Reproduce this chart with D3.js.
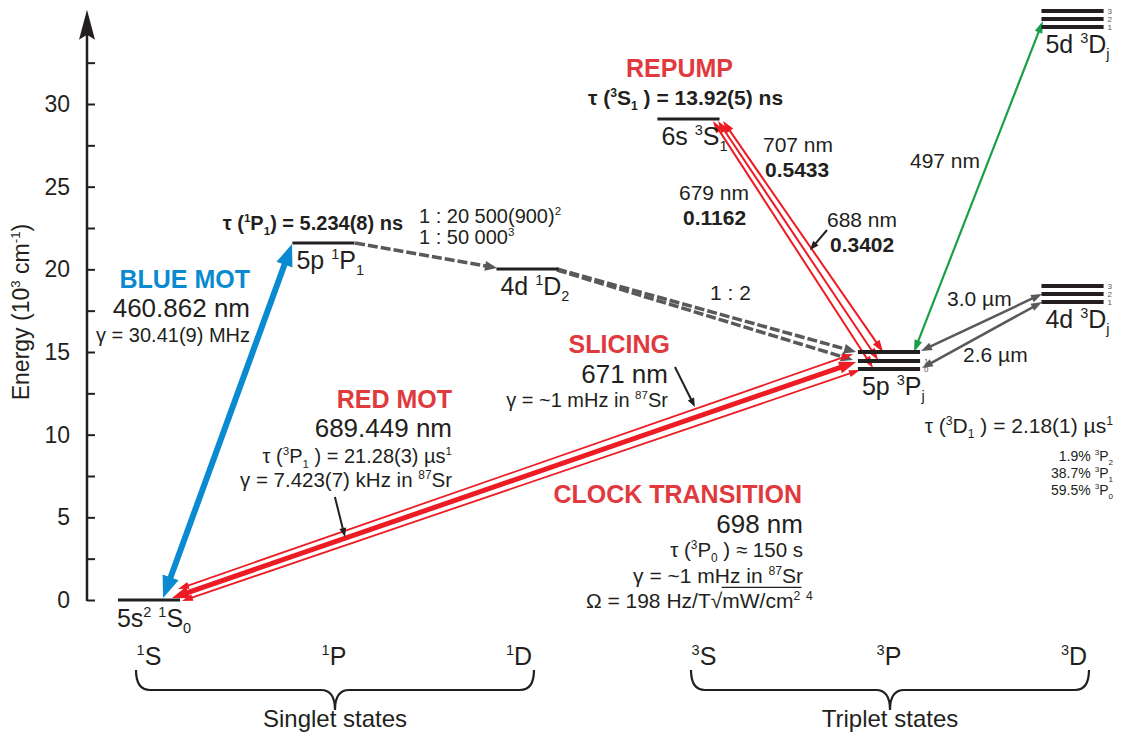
<!DOCTYPE html>
<html><head><meta charset="utf-8">
<script src="https://cdn.jsdelivr.net/npm/d3@7"></script>
<style>
body{margin:0;background:#fff;}
svg{display:block;font-family:"Liberation Sans",Arial,Helvetica,sans-serif;}
</style></head><body>
<svg id="c" width="1121" height="734"></svg>
<script>
// ---------------- DATA ----------------
const orbitalMult = ["1","1","1","3","3","3"];
const orbitalL = ["S","P","D","S","P","D"];
const groupNames = ["Singlet states","Triplet states"];
const yTicks = [0,2.5,5,7.5,10,12.5,15,17.5,20,22.5,25,27.5,30,32.5];

// energy levels (10^3 cm^-1), column position in orbital units
const levelNames = ["5s^{2} ^{1}S_{0}","5p ^{1}P_{1}","4d ^{1}D_{2}","6s ^{3}S_{1}","5p ^{3}P_{j}","4d ^{3}D_{j}","5d ^{3}D_{j}"];
const levelCols = [0, 0.943, 2.046, 2.916, 4.0, 4.992, 4.992];
const levelEnergies = [[0],[21.59],[20.02],[29.09],[15.0,14.46,13.97],[18.99,18.51,18.02],[35.63,35.14,34.66]];
const levelJ = [[],[],[],[],["","1","0"],["3","2","1"],["3","2","1"]];

// transitions: [col, energy] endpoints
const transKind = ["blue","dash","dash","dash","redThin","redThin","redThick","repump","repump","repump","green","ir","ir","pointer","pointer","pointer"];
const transFrom = [[0.076,0.12],[1.114,21.59],[2.205,20.02],[2.205,19.96],[0.157,0.665],[0.178,-0.06],[0.124,0.12],[3.049,28.97],[3.076,28.97],[3.103,28.97],[4.135,15.0],[4.173,15.06],[4.178,14.03],[1.005,6.23],[2.843,14.09],[3.665,22.38]];
const transTo   = [[0.773,21.53],[1.881,20.08],[3.822,15.0],[3.805,14.52],[3.805,14.88],[3.843,13.91],[3.822,14.4],[3.914,14.03],[3.941,14.52],[3.968,15.0],[4.832,35.02],[4.827,18.51],[4.827,18.02],[1.059,3.81],[2.951,11.67],[3.573,21.17]];

// ---------------- LAYOUT ----------------
const INK="#231f20", BLUE="#0a8ad0", RED="#ed1c24", REDTXT="#e0393e", GRAY="#58595b", GREEN="#1a9f48";
const styles = {
  blue:{color:BLUE,w:6,hl:22,hw:17,start:true,end:true},
  dash:{color:GRAY,w:3.5,hl:12,hw:10,start:false,end:true,dash:"10,3"},
  redThin:{color:RED,w:1.8,hl:11,hw:7,start:true,end:true},
  redThick:{color:RED,w:5,hl:17,hw:12,start:true,end:true},
  repump:{color:RED,w:2,hl:12,hw:8,start:true,end:true},
  green:{color:GREEN,w:2.2,hl:12,hw:8,start:true,end:true},
  ir:{color:GRAY,w:2.5,hl:11,hw:8,start:true,end:true},
  pointer:{color:INK,w:2,hl:9,hw:7,start:false,end:true}
};

const svg = d3.select("#c");
const x = d3.scaleLinear().domain([0,5]).range([149,1074]);
const y = d3.scaleLinear().domain([0,30]).range([600,104]);
const halfW = 0.168;

function rich(text, str, fs){
  const re=/\^\{([^}]*)\}|_\{([^}]*)\}|([^\^_]+)/g; let m, cur=0;
  while((m=re.exec(str))){
    let o=0, s=fs, t;
    if(m[1]!==undefined){o=-0.4*fs; s=fs*0.58; t=m[1];}
    else if(m[2]!==undefined){o=0.25*fs; s=fs*0.58; t=m[2];}
    else t=m[3];
    const ts=text.append("tspan").text(t).attr("font-size",s);
    if(o-cur!==0) ts.attr("dy",o-cur);
    cur=o;
  }
  return text;
}
function label(g,str,px,py,fs,opt={}){
  const t=g.append("text").attr("x",px).attr("y",py).attr("font-size",fs)
    .attr("fill",opt.color||INK).attr("text-anchor",opt.anchor||"start")
    .attr("font-weight",opt.bold?"bold":"normal");
  rich(t,str,fs); return t;
}
function measure(str,fs){
  const t=label(svg,str,0,-100,fs,{}); const w=t.node().getBBox().width; t.remove(); return w;
}

// ---- axis
const ax = svg.append("g").attr("transform",`translate(87,0)`);
ax.call(d3.axisLeft(y).tickValues(yTicks).tickSize(-8).tickPadding(17)
   .tickFormat(d=>d%5===0?d:""));
ax.select(".domain").remove();
ax.selectAll(".tick line").attr("stroke",INK).attr("stroke-width",2);
ax.selectAll(".tick text").attr("font-size",23).attr("fill",INK).attr("font-family","Liberation Sans, Arial, sans-serif");
const yTop = y(35.7);
ax.append("line").attr("x1",0).attr("x2",0).attr("y1",y(0)+1).attr("y2",yTop+20).attr("stroke",INK).attr("stroke-width",2.5);
ax.append("path").attr("d",`M0,${yTop} L-8,${yTop+30} L0,${yTop+25} L8,${yTop+30}Z`).attr("fill",INK);
label(svg,"Energy (10^{3} cm^{-1})",0,0,23,{anchor:"middle"}).attr("transform","translate(29,312) rotate(-90)");

// ---- transitions
const tg = svg.append("g");
function arrow(p1,p2,s){
  const dx=p2[0]-p1[0], dy=p2[1]-p1[1], L=Math.hypot(dx,dy), ux=dx/L, uy=dy/L, nx=-uy, ny=ux;
  let a=p1, b=p2;
  if(s.start) a=[p1[0]+ux*s.hl*0.75,p1[1]+uy*s.hl*0.75];
  if(s.end) b=[p2[0]-ux*s.hl*0.75,p2[1]-uy*s.hl*0.75];
  const ln=tg.append("line").attr("x1",a[0]).attr("y1",a[1]).attr("x2",b[0]).attr("y2",b[1])
    .attr("stroke",s.color).attr("stroke-width",s.w);
  if(s.dash) ln.attr("stroke-dasharray",s.dash);
  const head=(tip,dir)=>{
    const bx=tip[0]-dir*ux*s.hl, by=tip[1]-dir*uy*s.hl;
    tg.append("path").attr("d",`M${tip[0]},${tip[1]} L${bx+nx*s.hw/2},${by+ny*s.hw/2} L${bx-nx*s.hw/2},${by-ny*s.hw/2}Z`).attr("fill",s.color);
  };
  if(s.start) head(p1,-1);
  if(s.end) head(p2,1);
}

// ---- levels
const lg = svg.append("g");
levelNames.forEach((nm,i)=>{
  const c=levelCols[i], Es=levelEnergies[i];
  const thick = Es.length>1?4:3;
  Es.forEach((E,k)=>{
    lg.append("line").attr("x1",x(c-halfW)).attr("x2",x(c+halfW)).attr("y1",y(E)).attr("y2",y(E))
      .attr("stroke",INK).attr("stroke-width",thick);
    const j=levelJ[i][k];
    if(j) label(lg,j,x(c+halfW)+4,y(E)+3,8,{color:"#555"});
  });
  const low=d3.min(Es);
  label(lg,nm,x(c-halfW)+(i===0?-1:4),y(low)+(i===0?27:26),25);
});

transKind.forEach((k,i)=>{
  const a=[x(transFrom[i][0]),y(transFrom[i][1])], b=[x(transTo[i][0]),y(transTo[i][1])];
  arrow(a,b,styles[k]);
});

// ---- annotations
const ng = svg.append("g");
const notes = [
 ["BLUE MOT",250,288,25,{bold:1,color:BLUE,anchor:"end"}],
 ["460.862 nm",250,317,26,{anchor:"end"}],
 ["γ = 30.41(9) MHz",250,342,20,{anchor:"end"}],
 ["τ (^{1}P_{1}) = 5.234(8) ns",403,230,20,{bold:1,anchor:"end"}],
 ["1 : 20 500(900)^{2}",419,223,20,{}],
 ["1 : 50 000^{3}",419,244,20,{}],
 ["1 : 2",710,300,21,{}],
 ["REPUMP",626,77,25,{bold:1,color:REDTXT}],
 ["τ (^{3}S_{1} ) = 13.92(5) ns",588,105,21,{bold:1}],
 ["707 nm",763,152,21,{}],
 ["0.5433",765,177,21,{bold:1}],
 ["679 nm",679,200,21,{}],
 ["0.1162",683,225,21,{bold:1}],
 ["688 nm",827,227,21,{}],
 ["0.3402",830,252,21,{bold:1}],
 ["497 nm",910,168,21,{}],
 ["3.0 µm",947,306,21,{}],
 ["2.6 µm",963,362,21,{}],
 ["τ (^{3}D_{1} ) = 2.18(1) µs^{1}",1113,433,21,{anchor:"end"}],
 ["1.9% ^{3}P_{2}",1113,461,14,{anchor:"end"}],
 ["38.7% ^{3}P_{1}",1113,478,14,{anchor:"end"}],
 ["59.5% ^{3}P_{0}",1113,495,14,{anchor:"end"}],
 ["SLICING",670,353,25,{bold:1,color:REDTXT,anchor:"end"}],
 ["671 nm",668,383,26,{anchor:"end"}],
 ["γ = ~1 mHz in ^{87}Sr",668,407,20,{anchor:"end"}],
 ["RED MOT",452,408,25,{bold:1,color:REDTXT,anchor:"end"}],
 ["689.449 nm",452,437,26,{anchor:"end"}],
 ["τ (^{3}P_{1} ) = 21.28(3) µs^{1}",452,463,20,{anchor:"end"}],
 ["γ = 7.423(7) kHz in ^{87}Sr",452,487,20.5,{anchor:"end"}],
 ["CLOCK TRANSITION",802,503,25,{bold:1,color:REDTXT,anchor:"end"}],
 ["698 nm",803,533,26,{anchor:"end"}],
 ["τ (^{3}P_{0} ) ≈ 150 s",803,557,20.5,{anchor:"end"}],
 ["γ = ~1 mHz in ^{87}Sr",803,583,21,{anchor:"end"}]
];
notes.forEach(n=>label(ng,n[0],n[1],n[2],n[3],n[4]));
// Omega line with radical overline (measured with temporary texts)
const omFs=21, omX=813, omY=608;
const omStr="Ω = 198 Hz/T√mW/cm^{2} ^{4}";
const wAll=measure(omStr,omFs), wA=measure("Ω = 198 Hz/T√",omFs), wB=measure("Ω = 198 Hz/T√mW/cm^{2}",omFs);
const x0=omX-wAll;
label(ng,omStr,x0,omY,omFs,{});
ng.append("line").attr("x1",x0+wA-1).attr("x2",x0+wB+1).attr("y1",omY-omFs*0.98).attr("y2",omY-omFs*0.98)
  .attr("stroke",INK).attr("stroke-width",1.2);

// ---- bottom orbital labels and braces
const bg = svg.append("g");
orbitalL.forEach((L,i)=>{
  label(bg,`^{${orbitalMult[i]}}${L}`,x(i),665,25,{anchor:"middle"});
});
function brace(x1,x2,y0,y1,y2){
  const xc=(x1+x2)/2, r=14;
  return `M${x1},${y0} Q${x1},${y1} ${x1+r},${y1} L${xc-r},${y1} Q${xc},${y1} ${xc},${y2} Q${xc},${y1} ${xc+r},${y1} L${x2-r},${y1} Q${x2},${y1} ${x2},${y0}`;
}
[[0,2],[3,5]].forEach((g,k)=>{
  const x1=x(g[0])-13, x2=x(g[1])+15;
  bg.append("path").attr("d",brace(x1,x2,670,690,710)).attr("fill","none").attr("stroke",INK).attr("stroke-width",2.2);
  label(bg,groupNames[k],(x1+x2)/2,727,24,{anchor:"middle"});
});
</script>
</body></html>
